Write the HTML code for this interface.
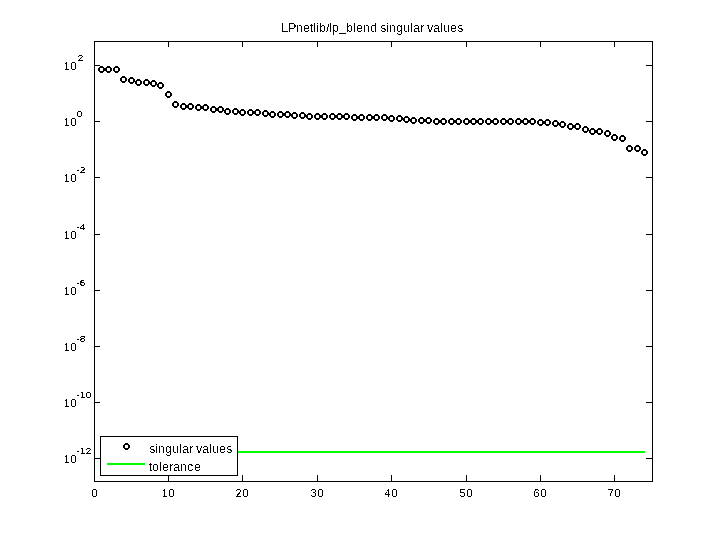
<!DOCTYPE html>
<html><head><meta charset="utf-8"><title>LPnetlib/lp_blend singular values</title>
<style>html,body{margin:0;padding:0;background:#fff}svg{display:block}text{font-family:"Liberation Sans",sans-serif;fill:#000}</style></head><body>
<svg width="720" height="540" viewBox="0 0 720 540">
<rect width="720" height="540" fill="#fff"/>
<g shape-rendering="crispEdges" fill="#000">
<rect x="94" y="41" width="559" height="1"/>
<rect x="94" y="481" width="559" height="1"/>
<rect x="94" y="41" width="1" height="441"/>
<rect x="652" y="41" width="1" height="441"/>
<rect x="94" y="475" width="1" height="6"/>
<rect x="94" y="42" width="1" height="5"/>
<rect x="168" y="475" width="1" height="6"/>
<rect x="168" y="42" width="1" height="5"/>
<rect x="242" y="475" width="1" height="6"/>
<rect x="242" y="42" width="1" height="5"/>
<rect x="317" y="475" width="1" height="6"/>
<rect x="317" y="42" width="1" height="5"/>
<rect x="391" y="475" width="1" height="6"/>
<rect x="391" y="42" width="1" height="5"/>
<rect x="466" y="475" width="1" height="6"/>
<rect x="466" y="42" width="1" height="5"/>
<rect x="540" y="475" width="1" height="6"/>
<rect x="540" y="42" width="1" height="5"/>
<rect x="614" y="475" width="1" height="6"/>
<rect x="614" y="42" width="1" height="5"/>
<rect x="95" y="65" width="5" height="1"/>
<rect x="646" y="65" width="6" height="1"/>
<rect x="95" y="121" width="5" height="1"/>
<rect x="646" y="121" width="6" height="1"/>
<rect x="95" y="177" width="5" height="1"/>
<rect x="646" y="177" width="6" height="1"/>
<rect x="95" y="234" width="5" height="1"/>
<rect x="646" y="234" width="6" height="1"/>
<rect x="95" y="290" width="5" height="1"/>
<rect x="646" y="290" width="6" height="1"/>
<rect x="95" y="346" width="5" height="1"/>
<rect x="646" y="346" width="6" height="1"/>
<rect x="95" y="402" width="5" height="1"/>
<rect x="646" y="402" width="6" height="1"/>
<rect x="95" y="458" width="5" height="1"/>
<rect x="646" y="458" width="6" height="1"/>
<rect x="101" y="451" width="544" height="2" fill="#00ff00"/>
</g>
<defs><filter id="bw" x="-5%" y="-5%" width="110%" height="110%" color-interpolation-filters="sRGB"><feComponentTransfer><feFuncA type="discrete" tableValues="0 1"/></feComponentTransfer></filter><filter id="bw4" x="-20%" y="-20%" width="140%" height="140%" color-interpolation-filters="sRGB"><feComponentTransfer><feFuncA type="discrete" tableValues="0 0 1 1 1"/></feComponentTransfer></filter><g id="m" shape-rendering="crispEdges" fill="#000"><path d="M-1.5,-3.5h3v1h1v1h1v3h-1v1h-1v1h-3v-1h-1v-1h-1v-3h1v-1h1zM-1.5,-1.5v3h3v-3z" fill-rule="evenodd"/></g></defs>
<use href="#m" x="101.5" y="69.5"/>
<use href="#m" x="108.5" y="69.5"/>
<use href="#m" x="116.5" y="69.5"/>
<use href="#m" x="123.5" y="79.5"/>
<use href="#m" x="131.5" y="80.5"/>
<use href="#m" x="138.5" y="82.5"/>
<use href="#m" x="146.5" y="82.5"/>
<use href="#m" x="153.5" y="83.5"/>
<use href="#m" x="160.5" y="85.5"/>
<use href="#m" x="168.5" y="94.5"/>
<use href="#m" x="175.5" y="104.5"/>
<use href="#m" x="183.5" y="106.5"/>
<use href="#m" x="190.5" y="106.5"/>
<use href="#m" x="198.5" y="107.5"/>
<use href="#m" x="205.5" y="107.5"/>
<use href="#m" x="213.5" y="109.5"/>
<use href="#m" x="220.5" y="109.5"/>
<use href="#m" x="227.5" y="111.5"/>
<use href="#m" x="235.5" y="111.5"/>
<use href="#m" x="242.5" y="112.5"/>
<use href="#m" x="250.5" y="112.5"/>
<use href="#m" x="257.5" y="112.5"/>
<use href="#m" x="265.5" y="113.5"/>
<use href="#m" x="272.5" y="114.5"/>
<use href="#m" x="280.5" y="114.5"/>
<use href="#m" x="287.5" y="114.5"/>
<use href="#m" x="294.5" y="115.5"/>
<use href="#m" x="302.5" y="115.5"/>
<use href="#m" x="309.5" y="116.5"/>
<use href="#m" x="317.5" y="116.5"/>
<use href="#m" x="324.5" y="116.5"/>
<use href="#m" x="332.5" y="116.5"/>
<use href="#m" x="339.5" y="116.5"/>
<use href="#m" x="346.5" y="116.5"/>
<use href="#m" x="354.5" y="117.5"/>
<use href="#m" x="361.5" y="117.5"/>
<use href="#m" x="369.5" y="117.5"/>
<use href="#m" x="376.5" y="117.5"/>
<use href="#m" x="384.5" y="117.5"/>
<use href="#m" x="391.5" y="118.5"/>
<use href="#m" x="399.5" y="118.5"/>
<use href="#m" x="406.5" y="119.5"/>
<use href="#m" x="413.5" y="120.5"/>
<use href="#m" x="421.5" y="120.5"/>
<use href="#m" x="428.5" y="120.5"/>
<use href="#m" x="436.5" y="121.5"/>
<use href="#m" x="443.5" y="121.5"/>
<use href="#m" x="451.5" y="121.5"/>
<use href="#m" x="458.5" y="121.5"/>
<use href="#m" x="466.5" y="121.5"/>
<use href="#m" x="473.5" y="121.5"/>
<use href="#m" x="480.5" y="121.5"/>
<use href="#m" x="488.5" y="121.5"/>
<use href="#m" x="495.5" y="121.5"/>
<use href="#m" x="503.5" y="121.5"/>
<use href="#m" x="510.5" y="121.5"/>
<use href="#m" x="518.5" y="121.5"/>
<use href="#m" x="525.5" y="121.5"/>
<use href="#m" x="532.5" y="121.5"/>
<use href="#m" x="540.5" y="122.5"/>
<use href="#m" x="547.5" y="122.5"/>
<use href="#m" x="555.5" y="123.5"/>
<use href="#m" x="562.5" y="124.5"/>
<use href="#m" x="570.5" y="126.5"/>
<use href="#m" x="577.5" y="126.5"/>
<use href="#m" x="585.5" y="129.5"/>
<use href="#m" x="592.5" y="131.5"/>
<use href="#m" x="599.5" y="131.5"/>
<use href="#m" x="607.5" y="133.5"/>
<use href="#m" x="614.5" y="137.5"/>
<use href="#m" x="622.5" y="138.5"/>
<use href="#m" x="629.5" y="148.5"/>
<use href="#m" x="637.5" y="148.5"/>
<use href="#m" x="644.5" y="152.5"/>
<g shape-rendering="crispEdges">
<rect x="100.5" y="436.5" width="137" height="39" fill="#fff" stroke="#000" stroke-width="1"/>
<rect x="107" y="463" width="38" height="2" fill="#00ff00"/>
</g>
<use href="#m" x="126.5" y="446.5"/>
<g filter="url(#bw)">
<text x="149.2 155.2 158.2 165.2 172.2 179.2 182.2 189.2 193.2 196.2 202.2 209.2 212.2 219.2 226.2" y="453" font-size="12">singular values</text>
<text x="149.02 152.2 159.2 162.2 169.2 173.2 180.2 187.2 194.2" y="471" font-size="12">tolerance</text>
<text x="281.2 288.2 296.2 303.2 310.02 313.2 316.2 319.2 326.2 329.2 332.2 339.2 346.2 353.2 356.2 363.2 370.2 377.2 380.2 386.2 389.2 396.2 403.2 410.2 413.2 420.2 424.2 427.2 433.2 440.2 443.2 450.2 457.2" y="32 32 32 32 32 32 32 32 32 32 32 31 32 32 32 32 32 32 32 32 32 32 32 32 32 32 32 32 32 32 32 32 32" font-size="12">LPnetlib/lp_blend singular values</text>
<text x="91.5" y="497" font-size="11">0</text>
<text x="161.5 168.5" y="497" font-size="11">10</text>
<text x="235.5 242.5" y="497" font-size="11">20</text>
<text x="310.5 317.5" y="497" font-size="11">30</text>
<text x="384.5 391.5" y="497" font-size="11">40</text>
<text x="459.5 466.5" y="497" font-size="11">50</text>
<text x="533.5 540.5" y="497" font-size="11">60</text>
<text x="607.5 614.5" y="497" font-size="11">70</text>
<text x="63.5 70.5" y="70" font-size="11">10</text>
<text filter="url(#bw4)" transform="translate(77.5,61) scale(1.25,1)" font-size="8.4">2</text>
<text x="63.5 70.5" y="126" font-size="11">10</text>
<text filter="url(#bw4)" transform="translate(76.5,117) scale(1.25,1)" font-size="8.4">0</text>
<text x="63.5 70.5" y="182" font-size="11">10</text>
<text filter="url(#bw4)" transform="translate(76.25,173) scale(1.25,1)" font-size="8.4">-2</text>
<text x="63.5 70.5" y="239" font-size="11">10</text>
<text filter="url(#bw4)" transform="translate(76.25,230) scale(1.25,1)" font-size="8.4">-4</text>
<text x="63.5 70.5" y="295" font-size="11">10</text>
<text filter="url(#bw4)" transform="translate(76.25,286) scale(1.25,1)" font-size="8.4">-6</text>
<text x="63.5 70.5" y="351" font-size="11">10</text>
<text filter="url(#bw4)" transform="translate(76.25,342) scale(1.25,1)" font-size="8.4">-8</text>
<text x="63.5 70.5" y="407" font-size="11">10</text>
<text filter="url(#bw4)" transform="translate(76.25,398) scale(1.25,1)" font-size="8.4">-10</text>
<text x="63.5 70.5" y="463" font-size="11">10</text>
<text filter="url(#bw4)" transform="translate(76.25,454) scale(1.25,1)" font-size="8.4">-12</text>
</g>
</svg></body></html>
